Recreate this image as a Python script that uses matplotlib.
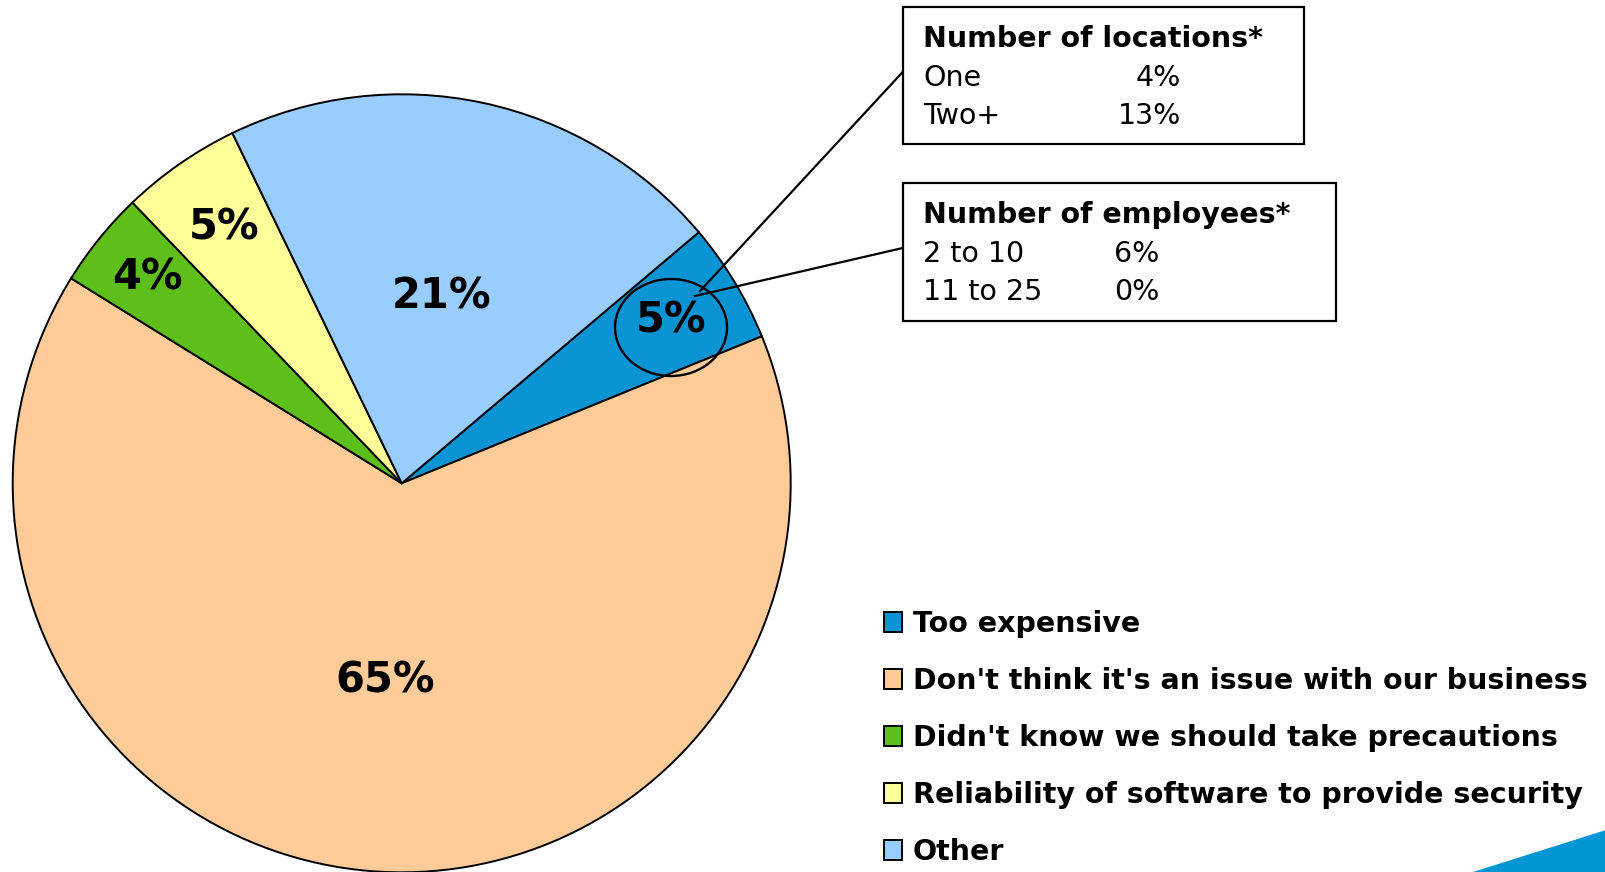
import matplotlib.pyplot as plt
from matplotlib.patches import Ellipse, Rectangle, Polygon
import numpy as np

W, H = 1606, 872

reasons = ["Too expensive",
           "Don't think it's an issue with our business",
           "Didn't know we should take precautions",
           "Reliability of software to provide security",
           "Other"]
shares = [5, 65, 4, 5, 21]
colors = ["#0A94D4", "#FFCC99", "#5FBF1A", "#FFFF99", "#99CCFF"]
label_radius = [0.81, 0.51, 0.84, 0.80, 0.49]

loc_title = "Number of locations*"
loc_rows = ["One", "Two+"]
loc_vals = ["4%", "13%"]
emp_title = "Number of employees*"
emp_rows = ["2 to 10", "11 to 25"]
emp_vals = ["6%", "0%"]


def Y(y):
    # pixel row (from top) -> data y (from bottom)
    return H - y


fig = plt.figure(figsize=(W / 100, H / 100), dpi=100)
ax = fig.add_axes([0, 0, 1, 1])

cx, cy, r = 401.7, Y(483.3), 389
wedges, _ = ax.pie(shares, colors=colors, startangle=40.2, counterclock=False,
                   center=(cx, cy), radius=r, frame=True,
                   wedgeprops=dict(edgecolor="black", linewidth=1.4))
ax.set_xlim(0, W)
ax.set_ylim(0, H)
ax.set_aspect("equal")
ax.axis("off")

for w, v, f in zip(wedges, shares, label_radius):
    mid = np.deg2rad((w.theta1 + w.theta2) / 2)
    ax.text(cx + f * r * np.cos(mid), cy + f * r * np.sin(mid), f"{v}%",
            ha="center", va="center", fontsize=30, fontweight="bold")

# ellipse around the small slice label + leader lines
ax.add_patch(Ellipse((671, Y(327.5)), 112, 97, fill=False, edgecolor="black", linewidth=1.7))
ax.plot([700, 902.7], [Y(291), Y(72)], color="black", linewidth=1.6)
ax.plot([695, 902.7], [Y(296), Y(248)], color="black", linewidth=1.6)


def callout(x0, y0, x1, y1, title, rows, vals, val_x, val_ha):
    ax.add_patch(Rectangle((x0, Y(y1)), x1 - x0, y1 - y0, facecolor="white",
                           edgecolor="black", linewidth=1.6))
    ax.text(923, Y(y0 + 40), title, fontsize=20.5, fontweight="bold", va="baseline")
    for i, (name, val) in enumerate(zip(rows, vals)):
        yb = y0 + 79 + i * 38
        ax.text(923, Y(yb), name, fontsize=20.5, va="baseline")
        ax.text(val_x, Y(yb), val, fontsize=20.5, va="baseline", ha=val_ha)


callout(902.7, 7.3, 1304, 144, loc_title, loc_rows, loc_vals, 1181, "right")
callout(902.7, 183, 1335.7, 320.7, emp_title, emp_rows, emp_vals, 1114, "left")

leg = ax.legend(wedges, reasons, loc="upper left", bbox_to_anchor=(884 / W, 1 - 610 / H),
                bbox_transform=fig.transFigure, frameon=False, borderpad=0,
                handlelength=0.64, handleheight=0.7, handletextpad=0.38,
                labelspacing=1.02, borderaxespad=0,
                prop=dict(size=20.5, weight="bold"))

# decorative corner shape
ax.add_patch(Polygon([(1473, Y(872)), (W, Y(830)), (W, Y(872))], closed=True,
                     facecolor="#0096D6", edgecolor="none"))

fig.savefig("out.png", dpi=100)
